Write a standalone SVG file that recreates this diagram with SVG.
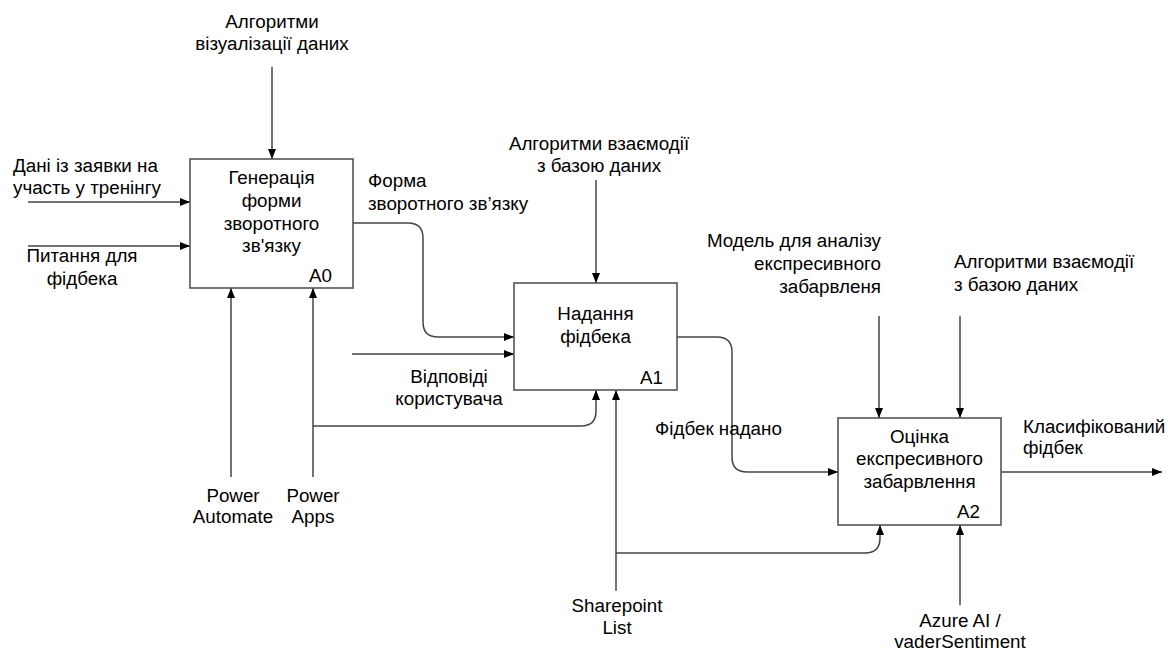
<svg xmlns="http://www.w3.org/2000/svg" width="1168" height="653" viewBox="0 0 1168 653">
  <style>
    .box { fill: #ffffff; stroke: #555555; stroke-width: 1.6; }
    .wire { fill: none; stroke: #444444; stroke-width: 1.5; }
    .lbl { font-family: "Liberation Sans", Arial, sans-serif; font-size: 18.8px; fill: #000000; }
    .mid { text-anchor: middle; }
    .end { text-anchor: end; }
  </style>
  <defs>
    <marker id="arrow" viewBox="0 0 10 8" refX="10" refY="4" markerWidth="10" markerHeight="8" markerUnits="userSpaceOnUse" orient="auto">
      <path d="M0,0 L10,4 L0,8 Z" fill="#000000"/>
    </marker>
  </defs>

  <!-- connectors -->
  <g id="connectors" class="wire" marker-end="url(#arrow)">
    <path d="M272,67 V159"/>
    <path d="M28,202 H190"/>
    <path d="M28,246 H190"/>
    <path d="M353,223 H408 Q423,223 423,238 V322 Q423,337 438,337 H514"/>
    <path d="M352,354 H514"/>
    <path d="M596,180 V283"/>
    <path d="M231,477 V288"/>
    <path d="M313,477 V288"/>
    <path d="M313,426 H581 Q596,426 596,411 V390"/>
    <path d="M677,337 H717 Q732,337 732,352 V457 Q732,472 747,472 H838"/>
    <path d="M879,316 V418"/>
    <path d="M960,316 V418"/>
    <path d="M1001,472 H1162"/>
    <path d="M616,591 V390"/>
    <path d="M616,553 H865 Q880,553 880,538 V525"/>
    <path d="M960,605 V525"/>
  </g>

  <!-- arrow labels -->
  <g id="labels" class="lbl">
    <text class="mid" x="272" y="28">Алгоритми</text>
    <text class="mid" x="272" y="50">візуалізації даних</text>
    <text x="13" y="172">Дані із заявки на</text>
    <text x="13" y="194">участь у тренінгу</text>
    <text class="mid" x="82" y="262">Питання для</text>
    <text class="mid" x="82" y="285">фідбека</text>
    <text x="368" y="187">Форма</text>
    <text x="368" y="210">зворотного зв’язку</text>
    <text class="mid" x="599" y="150">Алгоритми взаємодії</text>
    <text class="mid" x="599" y="172">з базою даних</text>
    <text class="mid" x="449" y="383">Відповіді</text>
    <text class="mid" x="449" y="405">користувача</text>
    <text x="655" y="435">Фідбек надано</text>
    <text class="end" x="881" y="247">Модель для аналізу</text>
    <text class="end" x="881" y="270">експресивного</text>
    <text class="end" x="881" y="293">забарвленя</text>
    <text x="954" y="268">Алгоритми взаємодії</text>
    <text x="954" y="291">з базою даних</text>
    <text x="1023" y="433">Класифікований</text>
    <text x="1023" y="454">фідбек</text>
    <text class="mid" x="233" y="502">Power</text>
    <text class="mid" x="233" y="523">Automate</text>
    <text class="mid" x="313" y="502">Power</text>
    <text class="mid" x="313" y="523">Apps</text>
    <text class="mid" x="617" y="612">Sharepoint</text>
    <text class="mid" x="617" y="634">List</text>
    <text class="mid" x="960" y="627">Azure AI /</text>
    <text class="mid" x="960" y="648">vaderSentiment</text>
  </g>

  <!-- activity A0 -->
  <g id="A0">
    <rect class="box" x="190" y="159" width="163" height="129"/>
    <text class="lbl mid" x="271.5" y="184">Генерація</text>
    <text class="lbl mid" x="271.5" y="207">форми</text>
    <text class="lbl mid" x="271.5" y="230">зворотного</text>
    <text class="lbl mid" x="271.5" y="252">зв'язку</text>
    <text class="lbl end" x="332" y="282">A0</text>
  </g>

  <!-- activity A1 -->
  <g id="A1">
    <rect class="box" x="514" y="283" width="163" height="107"/>
    <text class="lbl mid" x="595.5" y="320">Надання</text>
    <text class="lbl mid" x="595.5" y="343">фідбека</text>
    <text class="lbl end" x="663" y="384">A1</text>
  </g>

  <!-- activity A2 -->
  <g id="A2">
    <rect class="box" x="838" y="418" width="163" height="107"/>
    <text class="lbl mid" x="919.5" y="443">Оцінка</text>
    <text class="lbl mid" x="919.5" y="465">експресивного</text>
    <text class="lbl mid" x="919.5" y="488">забарвлення</text>
    <text class="lbl end" x="980" y="518">A2</text>
  </g>
</svg>
